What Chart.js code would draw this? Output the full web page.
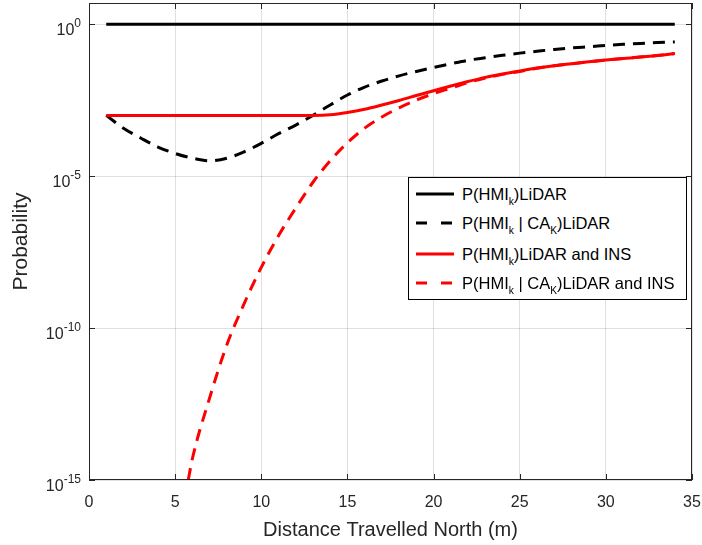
<!DOCTYPE html>
<html>
<head>
<meta charset="utf-8">
<script src="https://cdn.jsdelivr.net/npm/chart.js@4/dist/chart.umd.min.js"></script>
<style>
  body { margin: 0; background: #fff; }
  #wrap { position: relative; width: 702px; height: 545px; }
  #legend { position: absolute; left: 408px; top: 177px; width: 277px; height: 121px;
    border: 1px solid #000; background: #fff; font-family: 'Liberation Sans', Arial, sans-serif;
    font-size: 16.5px; color: #000; }
  #legend .row { position: absolute; left: 0; height: 20px; line-height: 20px; white-space: nowrap; }
  #legend svg { position: absolute; left: 6px; top: 4px; }
  #legend span.txt { position: absolute; left: 53px; top: 0; }
  #legend sub { font-size: 0.62em; vertical-align: -0.45em; }
</style>
</head>
<body>
<div id="wrap">
  <canvas id="chart" width="702" height="545"></canvas>
  <div id="legend"></div>
</div>
<script>
const distance = [1,2,3,4,5,6,7,8,9,10,11,12,13,14,15,16,17,18,19,20,21,22,23,24,25,26,27,28,29,30,31,32,33,34];
const pLidar = [1,1,1,1,1,1,1,1,1,1,1,1,1,1,1,1,1,1,1,1,1,1,1,1,1,1,1,1,1,1,1,1,1,1];
const pLidarCa = [1.0e-3,3.8e-4,1.8e-4,9.1e-5,5.6e-5,3.9e-5,3.2e-5,3.9e-5,6.3e-5,1.2e-4,2.5e-4,4.8e-4,1.0e-3,2.2e-3,
  4.7e-3,8.5e-3,1.35e-2,2.0e-2,2.8e-2,3.8e-2,5.0e-2,6.5e-2,7.9e-2,9.5e-2,0.112,0.129,0.148,0.166,0.182,0.200,0.219,0.234,0.251,0.263];
const pLidarIns = [1e-3,1e-3,1e-3,1e-3,1e-3,1e-3,1e-3,1e-3,1e-3,1e-3,1e-3,1e-3,1e-3,1.05e-3,
  1.25e-3,1.6e-3,2.2e-3,3.1e-3,4.5e-3,6.5e-3,9.3e-3,1.3e-2,1.78e-2,2.3e-2,2.9e-2,3.6e-2,4.3e-2,5.0e-2,5.8e-2,6.6e-2,7.4e-2,8.3e-2,9.3e-2,0.108];
const distanceInsCa = [5.76,6,7,8,9,10,11,12,13,14,15,16,17,18,19,20,21,22,23,24,25,26,27,28,29,30,31,32,33,34];
const pLidarInsCa = [1e-15,5.0e-15,5.0e-13,2.8e-11,6.3e-10,1.0e-8,1.1e-7,8.9e-7,6.3e-6,3.2e-5,1.26e-4,3.8e-4,8.9e-4,1.78e-3,
  3.2e-3,5.2e-3,7.9e-3,1.2e-2,1.7e-2,2.24e-2,2.8e-2,3.55e-2,4.3e-2,5.0e-2,5.8e-2,6.6e-2,7.4e-2,8.3e-2,9.3e-2,0.108];

const yTicks = [1e-15, 1e-10, 1e-5, 1];
const yTickBase = '10';
const yTickExponents = ['-15', '-10', '-5', '0'];
const seriesNames = [
  ['P(HMI', 'k', ')LiDAR'],
  ['P(HMI', 'k', ' | CA', 'K', ')LiDAR'],
  ['P(HMI', 'k', ')LiDAR and INS'],
  ['P(HMI', 'k', ' | CA', 'K', ')LiDAR and INS']
];
const seriesColors = ['#000000', '#000000', '#ff0000', '#ff0000'];
const seriesDashed = [false, true, false, true];

const FONT = "'Liberation Sans', Arial, sans-serif";
const AXIS_COLOR = '#262626';

function pairs(xs, ys) { return xs.map((x, i) => ({ x: x, y: ys[i] })); }

const seriesData = [
  pairs(distance, pLidar),
  pairs(distance, pLidarCa),
  pairs(distance, pLidarIns),
  pairs(distanceInsCa, pLidarInsCa)
];

// matlab style box, inward ticks and 10^n labels
const boxPlugin = {
  id: 'box',
  afterDraw(chart) {
    const { ctx, chartArea: a, scales } = chart;
    ctx.save();
    ctx.strokeStyle = AXIS_COLOR;
    ctx.lineWidth = 1;
    ctx.strokeRect(a.left + 0.5, a.top + 0.5, a.right - a.left - 1, a.bottom - a.top - 1);
    ctx.beginPath();
    scales.x.ticks.forEach(t => {
      const px = Math.round(scales.x.getPixelForValue(t.value)) + 0.5;
      ctx.moveTo(px, a.bottom); ctx.lineTo(px, a.bottom - 6);
      ctx.moveTo(px, a.top); ctx.lineTo(px, a.top + 6);
    });
    scales.y.ticks.forEach(t => {
      const py = Math.round(scales.y.getPixelForValue(t.value)) + 0.5;
      ctx.moveTo(a.left, py); ctx.lineTo(a.left + 6, py);
      ctx.moveTo(a.right, py); ctx.lineTo(a.right - 6, py);
    });
    ctx.stroke();

    ctx.fillStyle = AXIS_COLOR;
    ctx.textAlign = 'right';
    ctx.textBaseline = 'alphabetic';
    const rightEdge = a.left - 8;
    yTicks.forEach((v, i) => {
      const py = scales.y.getPixelForValue(v);
      ctx.font = '12px ' + FONT;
      const exp = yTickExponents[i];
      const ew = ctx.measureText(exp).width;
      ctx.fillText(exp, rightEdge, py + 3);
      ctx.font = '16px ' + FONT;
      ctx.fillText(yTickBase, rightEdge - ew, py + 11);
    });
    ctx.restore();
  }
};

new Chart(document.getElementById('chart'), {
  type: 'line',
  data: {
    datasets: seriesData.map((d, i) => ({
      label: seriesNames[i].join(''),
      data: d,
      borderColor: seriesColors[i],
      borderWidth: 3,
      borderDash: seriesDashed[i] ? [12, 8] : [],
      pointRadius: 0,
      fill: false,
      cubicInterpolationMode: 'monotone',
      order: 3 - i
    }))
  },
  options: {
    responsive: false,
    animation: false,
    devicePixelRatio: 1,
    layout: { padding: { top: 3, right: 10, left: 0, bottom: 0 } },
    plugins: { legend: { display: false }, tooltip: { enabled: false } },
    scales: {
      x: {
        type: 'linear', min: 0, max: 35,
        ticks: { stepSize: 5, color: AXIS_COLOR, font: { family: FONT, size: 16 }, padding: 13, maxRotation: 0 },
        grid: { color: 'rgba(38,38,38,0.15)', drawTicks: false },
        border: { display: false },
        title: { display: true, text: 'Distance Travelled North (m)', color: AXIS_COLOR,
          font: { family: FONT, size: 20 }, padding: { top: 0, bottom: 3 } },
        afterFit(scale) { scale.height = 65; scale.paddingLeft = 0; scale.paddingRight = 0; }
      },
      y: {
        type: 'logarithmic', min: 1e-15, max: 5,
        afterBuildTicks(scale) { scale.ticks = yTicks.map(v => ({ value: v })); },
        ticks: { display: false },
        grid: { color: 'rgba(38,38,38,0.15)', drawTicks: false },
        border: { display: false },
        title: { display: true, text: 'Probability', color: AXIS_COLOR,
          font: { family: FONT, size: 21 }, padding: { top: 9, bottom: 0 } },
        afterFit(scale) { scale.width = 89; scale.paddingTop = 0; scale.paddingBottom = 0; }
      }
    }
  },
  plugins: [boxPlugin]
});

// legend with subscripts
const legend = document.getElementById('legend');
const rowTops = [6, 35, 66, 95];
seriesNames.forEach((parts, i) => {
  const row = document.createElement('div');
  row.className = 'row';
  row.style.top = rowTops[i] + 'px';
  row.style.width = '100%';
  const dash = seriesDashed[i] ? ' stroke-dasharray="11 14"' : '';
  row.innerHTML = '<svg width="40" height="12"><line x1="1" y1="6" x2="39" y2="6" stroke="' + seriesColors[i] +
    '" stroke-width="3"' + dash + '/></svg>';
  const txt = document.createElement('span');
  txt.className = 'txt';
  txt.innerHTML = parts.map((p, j) => j % 2 === 1 ? '<sub>' + p + '</sub>' : p).join('');
  row.appendChild(txt);
  legend.appendChild(row);
});
</script>
</body>
</html>
